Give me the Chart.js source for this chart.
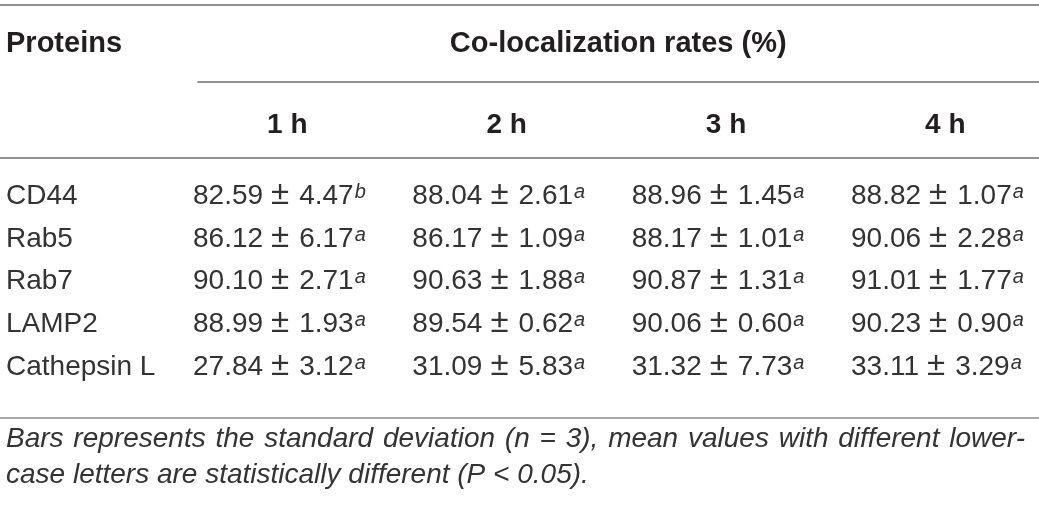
<!DOCTYPE html>
<html>
<head>
<meta charset="utf-8">
<script src="https://cdn.jsdelivr.net/npm/chart.js@4.4.1/dist/chart.umd.min.js"></script>
<style>
  html, body { margin: 0; padding: 0; background: #fff; }
</style>
</head>
<body>
<canvas id="tabla" width="1039" height="505"></canvas>
<script>
// filas y columnas de la tabla
const proteins = ['CD44', 'Rab5', 'Rab7', 'LAMP2', 'Cathepsin L'];
const times = ['1 h', '2 h', '3 h', '4 h'];

// medias (%) por tiempo
const mean1h = [82.59, 86.12, 90.10, 88.99, 27.84];
const mean2h = [88.04, 86.17, 90.63, 89.54, 31.09];
const mean3h = [88.96, 88.17, 90.87, 90.06, 31.32];
const mean4h = [88.82, 90.06, 91.01, 90.23, 33.11];

// desviaciones
const sd1h = [4.47, 6.17, 2.71, 1.93, 3.12];
const sd2h = [2.61, 1.09, 1.88, 0.62, 5.83];
const sd3h = [1.45, 1.01, 1.31, 0.60, 7.73];
const sd4h = [1.07, 2.28, 1.77, 0.90, 3.29];

// letras de significancia
const sig1h = ['b', 'a', 'a', 'a', 'a'];
const sig2h = ['a', 'a', 'a', 'a', 'a'];
const sig3h = ['a', 'a', 'a', 'a', 'a'];
const sig4h = ['a', 'a', 'a', 'a', 'a'];

const spanTitle = 'Co-localization rates (%)';
const rowTitle = 'Proteins';
const note1 = 'Bars represents the standard deviation (n = 3), mean values with different lower-';
const note2 = 'case letters are statistically different (P < 0.05).';

const means = [mean1h, mean2h, mean3h, mean4h];
const sds = [sd1h, sd2h, sd3h, sd4h];
const sigs = [sig1h, sig2h, sig3h, sig4h];

// posiciones en unidades de fila / columna
const headY = -3.556, timeY = -1.661;
const ruleTop = -4.655, ruleSpan = -2.854, ruleHead = -1.076, ruleBottom = 5.006;
const noteY1 = 5.684, noteY2 = 6.526;
const headOffset = 0.43;

const FONT = '"Liberation Sans", Arial, Helvetica, sans-serif';
const INK = '#231f20';
const TEXT = '#333333';

const datasets = times.map((t, c) => ({
  label: t,
  data: proteins.map((p, r) => ({ x: c + 1, y: r })),
  pointRadius: 0,
  showLine: false
}));

const tablePlugin = {
  id: 'tabla',
  afterDatasetsDraw(chart) {
    const ctx = chart.ctx;
    const xs = chart.scales.x, ys = chart.scales.y;
    const left = chart.chartArea.left, right = chart.chartArea.right;

    const rule = (v, x0, color, w) => {
      const y = ys.getPixelForValue(v);
      ctx.strokeStyle = color;
      ctx.lineWidth = w;
      ctx.beginPath();
      ctx.moveTo(x0, y);
      ctx.lineTo(right, y);
      ctx.stroke();
    };

    ctx.save();
    rule(ruleTop, left, '#6d6d6d', 1.5);
    rule(ruleSpan, xs.getPixelForValue(1.02), '#6d6d6d', 1.5);
    rule(ruleHead, left, '#6d6d6d', 1.5);
    rule(ruleBottom, left, '#a8a8a8', 2);

    ctx.fillStyle = INK;
    ctx.textBaseline = 'alphabetic';

    // encabezados
    ctx.font = 'bold 29px ' + FONT;
    ctx.textAlign = 'left';
    ctx.fillText(rowTitle, left + 6, ys.getPixelForValue(headY));
    ctx.textAlign = 'center';
    const spanMid = (xs.getPixelForValue(1.02) + right) / 2;
    ctx.fillText(spanTitle, spanMid, ys.getPixelForValue(headY));
    ctx.font = 'bold 28px ' + FONT;
    times.forEach((t, c) => {
      ctx.fillText(t, xs.getPixelForValue(c + 1 + headOffset), ys.getPixelForValue(timeY));
    });

    // nombres de proteinas
    ctx.fillStyle = TEXT;
    ctx.font = '28px ' + FONT;
    ctx.textAlign = 'left';
    const meta0 = chart.getDatasetMeta(0);
    proteins.forEach((p, r) => {
      ctx.fillText(p, left + 6, meta0.data[r].y);
    });

    // celdas: media, ±, desviacion y letra
    times.forEach((t, c) => {
      const meta = chart.getDatasetMeta(c);
      proteins.forEach((p, r) => {
        const pt = meta.data[r];
        let x = pt.x;
        ctx.font = '28px ' + FONT;
        const m = means[c][r].toFixed(2);
        ctx.fillText(m, x, pt.y);
        x += ctx.measureText(m).width + 8;
        ctx.font = '33px ' + FONT;
        ctx.fillText('\u00b1', x, pt.y);
        x += ctx.measureText('\u00b1').width + 10;
        ctx.font = '28px ' + FONT;
        const s = sds[c][r].toFixed(2);
        ctx.fillText(s, x, pt.y);
        x += ctx.measureText(s).width + 1;
        ctx.font = 'italic 20px ' + FONT;
        ctx.fillText(sigs[c][r], x, pt.y - 6);
      });
    });

    // nota al pie, primera linea justificada
    ctx.font = 'italic 28px ' + FONT;
    const words = note1.split(' ');
    const y1 = ys.getPixelForValue(noteY1);
    const total = words.reduce((s, wd) => s + ctx.measureText(wd).width, 0);
    const gap = (1025 - (left + 6) - total) / (words.length - 1);
    let x = left + 6;
    words.forEach(wd => {
      ctx.fillText(wd, x, y1);
      x += ctx.measureText(wd).width + gap;
    });
    ctx.fillText(note2, left + 6, ys.getPixelForValue(noteY2));
    ctx.restore();
  }
};

new Chart(document.getElementById('tabla'), {
  type: 'scatter',
  data: { datasets },
  options: {
    responsive: false,
    animation: false,
    layout: { padding: 0 },
    scales: {
      x: { type: 'linear', display: false, min: 0.12, max: 4.857 },
      y: { type: 'linear', display: false, reverse: true, min: -4.772, max: 7.041 }
    },
    plugins: {
      legend: { display: false },
      tooltip: { enabled: false }
    }
  },
  plugins: [tablePlugin]
});
</script>
</body>
</html>
